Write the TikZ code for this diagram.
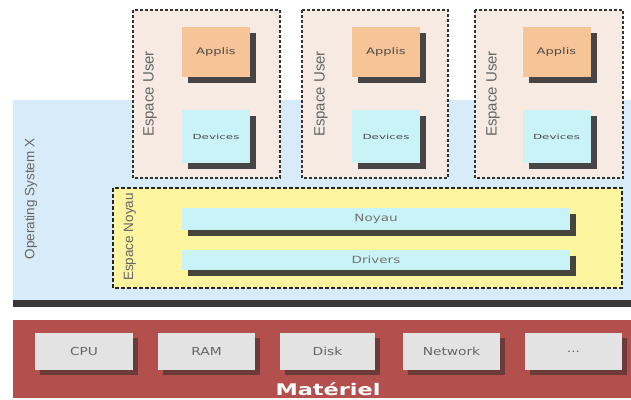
\documentclass[tikz,border=0pt]{standalone}
\usepackage{fontspec}
\usepackage{graphicx}
\setmainfont{Liberation Sans}
\newfontfamily\djv{DejaVu Sans}
\usetikzlibrary{shadows}
\definecolor{osblue}{HTML}{D7ECF8}
\definecolor{hwred}{HTML}{B3504D}
\definecolor{userfill}{HTML}{F6EAE2}
\definecolor{kernfill}{HTML}{FCF49E}
\definecolor{appfill}{HTML}{F7C497}
\definecolor{devfill}{HTML}{C9F3F6}
\definecolor{hwfill}{HTML}{E3E3E3}
\definecolor{txtgray}{HTML}{666666}
\newcommand{\wtext}[2]{\scalebox{#1}[1]{#2}}
\tikzset{
  shad/.style={drop shadow={shadow xshift=6pt, shadow yshift=-6pt, fill=black!80, opacity=0.9}},
  userbox/.style={draw=black!80, fill=userfill, line width=1.3pt, dash pattern=on 3pt off 2pt},
  kernbox/.style={draw=black!85, fill=kernfill, line width=1.4pt, dash pattern=on 4pt off 2pt},
  appbox/.style={shad, fill=appfill, inner sep=0pt, font=\djv\fontsize{9}{10}\selectfont, text=black!70},
  devbox/.style={shad, fill=devfill, inner sep=0pt, font=\djv\fontsize{7}{8}\selectfont, text=black!70},
  barbox/.style={shad, fill=devfill, inner sep=0pt, font=\djv\fontsize{10}{11}\selectfont, text=black!55},
  hwbox/.style={drop shadow={shadow xshift=5pt, shadow yshift=-5pt, fill=black!85}, fill=hwfill, inner sep=0pt, font=\djv\fontsize{11}{12}\selectfont, text=txtgray},
  vlabel/.style={rotate=90, text=txtgray, font=\fontsize{13.5}{14}\selectfont},
  ulabel/.style={vlabel, font=\fontsize{15}{16}\selectfont}
}
\begin{document}
\begin{tikzpicture}[x=1pt,y=-1pt]
\path[use as bounding box, fill=white] (0,0) rectangle (631,399);
% OS layer
\fill[osblue] (13,100) rectangle (631,300);
\fill[black!78] (13,300) rectangle (631,307);
\node[vlabel] (os) at (31,199) {Operating System X};
% Hardware
\fill[hwred] (13,320) rectangle (631,398);
\node[text=white, font=\djv\bfseries\fontsize{16}{17}\selectfont] (mat) at (328,389) {\wtext{1.4}{Matériel}};
% user spaces
\draw[userbox] (133,10) rectangle (280,178);
\draw[userbox] (302,10) rectangle (448,178);
\draw[userbox] (475,10) rectangle (623,178);
\node[ulabel] (eu1) at (150,94) {Espace User};
\node[ulabel] (eu2) at (321,94) {Espace User};
\node[ulabel] (eu3) at (493,94) {Espace User};
\node[appbox, minimum width=68pt, minimum height=50pt] (a1) at (216,52) {\wtext{1.45}{Applis}};
\node[appbox, minimum width=68pt, minimum height=50pt] (a2) at (386,52) {\wtext{1.45}{Applis}};
\node[appbox, minimum width=68pt, minimum height=50pt] (a3) at (556.5,52) {\wtext{1.45}{Applis}};
\node[devbox, minimum width=68pt, minimum height=53pt] (d1) at (216,136.5) {\wtext{1.7}{Devices}};
\node[devbox, minimum width=68pt, minimum height=53pt] (d2) at (386,136.5) {\wtext{1.7}{Devices}};
\node[devbox, minimum width=68pt, minimum height=53pt] (d3) at (556.5,136.5) {\wtext{1.7}{Devices}};
% kernel space
\draw[kernbox] (113,188) rectangle (622,288);
\node[vlabel] (en) at (130,237) {Espace Noyau};
\node[barbox, minimum width=388pt, minimum height=22pt] (noyau) at (376,219) {\wtext{1.35}{Noyau}};
\node[barbox, minimum width=388pt, minimum height=20pt] (drv) at (376,260) {\wtext{1.35}{Drivers}};
% hardware boxes
\node[hwbox, minimum width=98pt, minimum height=37pt] (cpu) at (84,351.5) {\wtext{1.25}{CPU}};
\node[hwbox, minimum width=97pt, minimum height=37pt] (ram) at (206.5,351.5) {\wtext{1.25}{RAM}};
\node[hwbox, minimum width=95pt, minimum height=37pt] (disk) at (327.5,351.5) {\wtext{1.25}{Disk}};
\node[hwbox, minimum width=97pt, minimum height=37pt] (net) at (451.5,351.5) {\wtext{1.25}{Network}};
\node[hwbox, minimum width=97pt, minimum height=37pt] (etc) at (573.5,351.5) {\wtext{1.25}{...}};
\end{tikzpicture}
\end{document}
